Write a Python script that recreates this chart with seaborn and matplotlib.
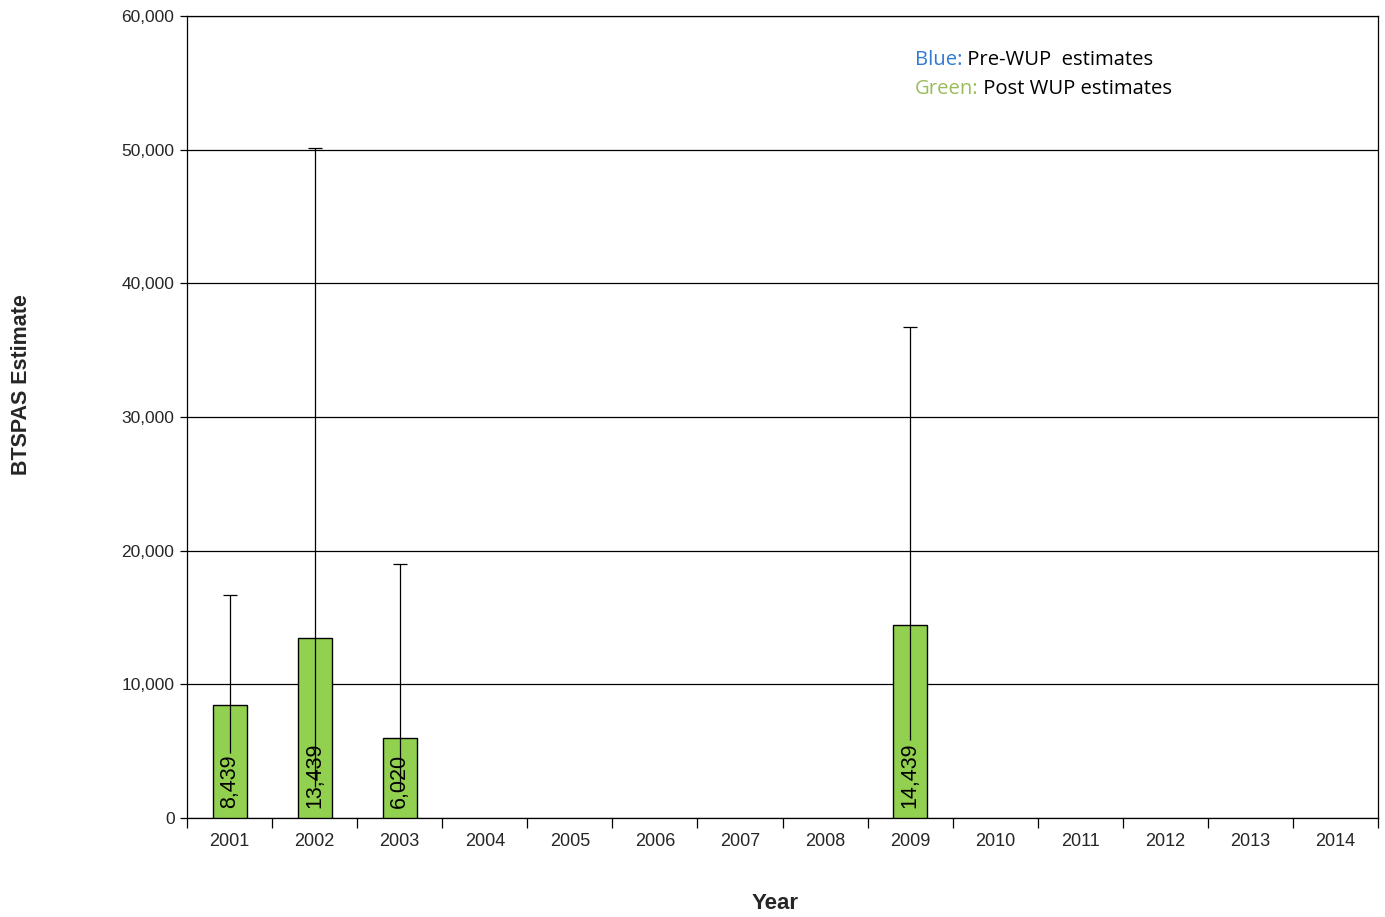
import numpy as np
import pandas as pd
import matplotlib
matplotlib.use('Agg')
import matplotlib.pyplot as plt
import matplotlib.ticker as ticker
import seaborn as sns

# ---------------------------------------------------------------------------
# Data
# ---------------------------------------------------------------------------
years = [str(y) for y in range(2001, 2015)]
estimate = [8439, 13439, 6020, np.nan, np.nan, np.nan, np.nan, np.nan,
            14439, np.nan, np.nan, np.nan, np.nan, np.nan]
ci_low = [4900, 2300, 2100, np.nan, np.nan, np.nan, np.nan, np.nan,
          5800, np.nan, np.nan, np.nan, np.nan, np.nan]
ci_high = [16700, 50100, 19000, np.nan, np.nan, np.nan, np.nan, np.nan,
           36700, np.nan, np.nan, np.nan, np.nan, np.nan]
y_ticks = [0, 10000, 20000, 30000, 40000, 50000, 60000]

df = pd.DataFrame({'Year': years, 'Estimate': estimate,
                   'Low': ci_low, 'High': ci_high})

# ---------------------------------------------------------------------------
# Style
# ---------------------------------------------------------------------------
sns.set_theme(style='white')
plt.rcParams['font.family'] = ['Liberation Sans', 'DejaVu Sans']

fig = plt.figure(figsize=(13.85, 9.17), dpi=100)
ax = fig.add_axes([187 / 1385, 1 - 818 / 917, 1191 / 1385, 802 / 917])

sns.barplot(data=df, x='Year', y='Estimate', order=years, errorbar=None,
            color='#92D050', saturation=1, width=0.4,
            edgecolor='black', linewidth=1.0, ax=ax, zorder=3)

# error bars: vertical line through the bar, cap only on top
pos = np.arange(len(years))
has = df['Estimate'].notna().to_numpy()
est = df['Estimate'].to_numpy()[has]
yerr = np.vstack([est - df['Low'].to_numpy()[has],
                  df['High'].to_numpy()[has] - est])
_, caps, _ = ax.errorbar(pos[has], est, yerr=yerr, fmt='none',
                         ecolor='black', elinewidth=0.9, capsize=5,
                         capthick=0.9, zorder=4)
caps[0].set_visible(False)

# value labels inside bars
for x, v in zip(pos[has], est):
    ax.annotate(f'{int(v):,}', xy=(x, 0), xytext=(0, 7),
                textcoords='offset points', rotation=90,
                ha='center', va='bottom', fontsize=15.5, color='black',
                zorder=5)

# axes
ax.set_xlim(-0.5, len(years) - 0.5)
ax.set_ylim(0, 60000)
ax.set_yticks(y_ticks)
ax.yaxis.set_major_formatter(ticker.StrMethodFormatter('{x:,.0f}'))
ax.yaxis.grid(True, color='black', linewidth=0.9)
ax.set_axisbelow(True)
ax.tick_params(axis='y', which='major', left=True, length=5, width=0.9,
               color='black', labelsize=12.5, pad=4)
ax.tick_params(axis='x', which='major', bottom=False, labelsize=13, pad=5)
ax.set_xticks(np.arange(-0.5, len(years), 1.0), minor=True)
ax.tick_params(axis='x', which='minor', bottom=True, length=7, width=0.9,
               color='black')
for s in ax.spines.values():
    s.set_color('black')
    s.set_linewidth(0.9)

ax.set_xlabel('Year', fontsize=16, fontweight='bold')
ax.set_ylabel('BTSPAS Estimate', fontsize=15.5, fontweight='bold')
ax.xaxis.set_label_coords(0.494, -0.094)
ax.yaxis.set_label_coords(-0.130, 0.54)

# colour key text
key_font = ['Open Sans', 'DejaVu Sans']
t1 = ax.text(0.611, 0.945, 'Blue:', transform=ax.transAxes, fontsize=14.6,
             color='#2E7BCF', va='center', ha='left', family=key_font)
ax.annotate(' Pre-WUP  estimates', xy=(1, 0), xycoords=t1, va='bottom',
            ha='left', fontsize=14.6, color='black', family=key_font)
t2 = ax.text(0.611, 0.909, 'Green:', transform=ax.transAxes, fontsize=14.6,
             color='#9BBB59', va='center', ha='left', family=key_font)
ax.annotate(' Post WUP estimates', xy=(1, 0), xycoords=t2, va='bottom',
            ha='left', fontsize=14.6, color='black', family=key_font)

fig.savefig('out.png', dpi=100)
